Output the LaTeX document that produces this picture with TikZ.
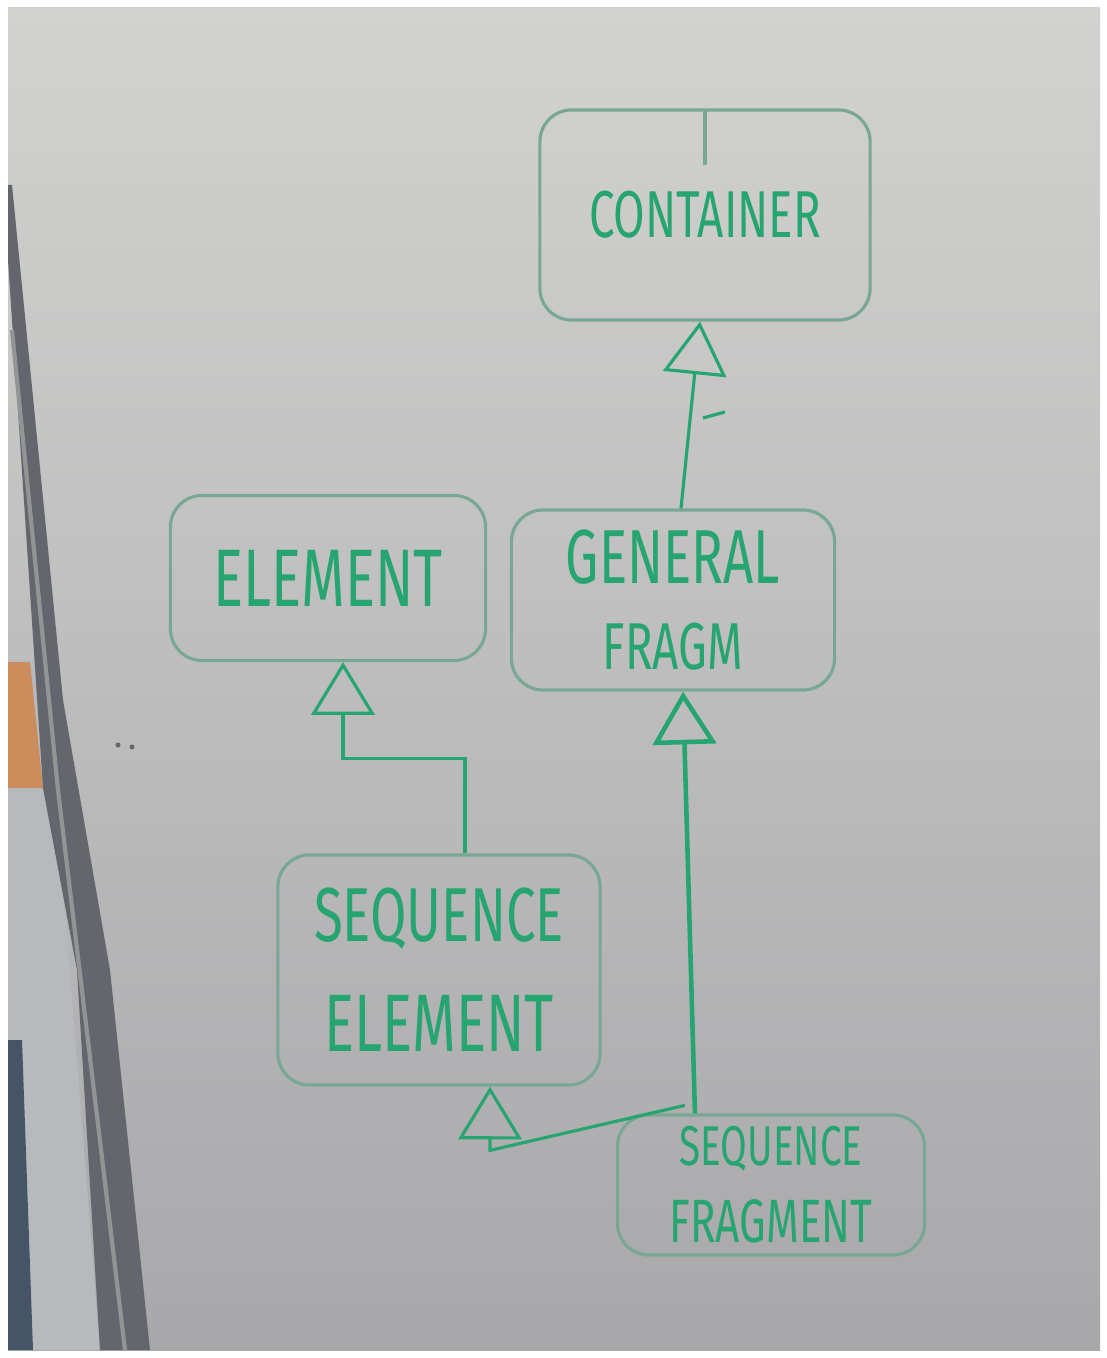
\documentclass[tikz,border=0pt]{standalone}
\usepackage{fontspec}
\setsansfont{Fira Sans}
\usepackage{graphicx}
\usetikzlibrary{arrows.meta,positioning}
\definecolor{inkgreen}{RGB}{38,165,112}
\definecolor{fadegreen}{RGB}{120,168,148}
\definecolor{boardtop}{RGB}{210,210,208}
\definecolor{boardbot}{RGB}{168,168,171}
\definecolor{framedark}{RGB}{100,102,110}
\definecolor{frameblue}{RGB}{70,84,104}
\definecolor{framelight}{RGB}{182,186,188}
\definecolor{shelf}{RGB}{204,140,92}
\newcommand{\hand}[1]{\scalebox{1}[1.45]{#1}}

\begin{document}
\begin{tikzpicture}[x=0.01cm,y=-0.01cm,line width=0.9pt,
                    >={Triangle[open,length=15pt,width=18pt]},
                    font=\sffamily, text=inkgreen]
      \tikzstyle{cls}=[draw=fadegreen,rounded corners=9pt,inner sep=0pt,align=center]
      \tikzstyle{inh}=[draw=inkgreen,->]

      % board and frame
      \useasboundingbox (0,0) rectangle (1107,1358);
      \fill[white] (0,0) rectangle (1107,1358);
      \shade[top color=boardtop,bottom color=boardbot] (8,8) rectangle (1100,1350);
      \fill[framelight] (8,660) -- (45,660) -- (100,1350) -- (8,1350) -- cycle;
      \fill[frameblue] (8,1040) -- (22,1040) -- (33,1350) -- (8,1350) -- cycle;
      \fill[shelf] (8,662) -- (30,662) -- (43,788) -- (8,788) -- cycle;
      \fill[framedark] (8,185) -- (12,185) -- (63,700) -- (110,970) -- (150,1350)
                       -- (100,1350) -- (77,970) -- (43,788) -- (8,260) -- cycle;
      \draw[framelight!80!black,line width=1.2pt] (12,330) -- (58,790) -- (125,1350);
      \fill[black!60] (118,745) circle (2.5) (132,747) circle (2.5);

      % classes
      \node[cls, minimum width=3.3cm, minimum height=2.1cm] (C) at (705,215)
            {\fontsize{13}{14}\selectfont\hand{CONTAINER}};
      \node[cls, minimum width=3.15cm, minimum height=1.65cm] (E) at (328,578)
            {\fontsize{16}{17}\selectfont\hand{ELEMENT}};
      \node[cls, minimum width=3.23cm, minimum height=1.8cm] (G) at (673,600)
            {\fontsize{15}{16}\selectfont\hand{GENERAL}\\[10pt]
             \fontsize{13}{14}\selectfont\hand{FRAGM}};
      \node[cls, minimum width=3.22cm, minimum height=2.3cm] (SE) at (439,970)
            {\fontsize{15}{16}\selectfont\hand{SEQUENCE}\\[12pt]
             \fontsize{16}{17}\selectfont\hand{ELEMENT}};
      \node[cls, minimum width=3.07cm, minimum height=1.4cm] (SF) at (771,1185)
            {\fontsize{11}{12}\selectfont\hand{SEQUENCE}\\[7pt]
             \fontsize{12}{13}\selectfont\hand{FRAGMENT}};

      % marks
      \draw[fadegreen] (705,110) -- (705,165);
      \draw[inkgreen] (703,418) -- (725,412);

      % generalisations
      \draw[inh] ([xshift=0.08cm]G.north) -- ([xshift=-0.05cm]C.south);
      \draw[inh] ([xshift=0.26cm]SE.north) -- ++(0,-95) -| ([xshift=0.15cm]E.south);
      \draw[inh,line width=1.3pt] ([xshift=-0.76cm]SF.north) -- ([xshift=0.1cm]G.south);
      \draw[inh] ([xshift=-0.86cm,yshift=0.08cm]SF.north) -- ++(-195,45)
                 -- ([xshift=0.51cm]SE.south);

  \end{tikzpicture}
\end{document}
